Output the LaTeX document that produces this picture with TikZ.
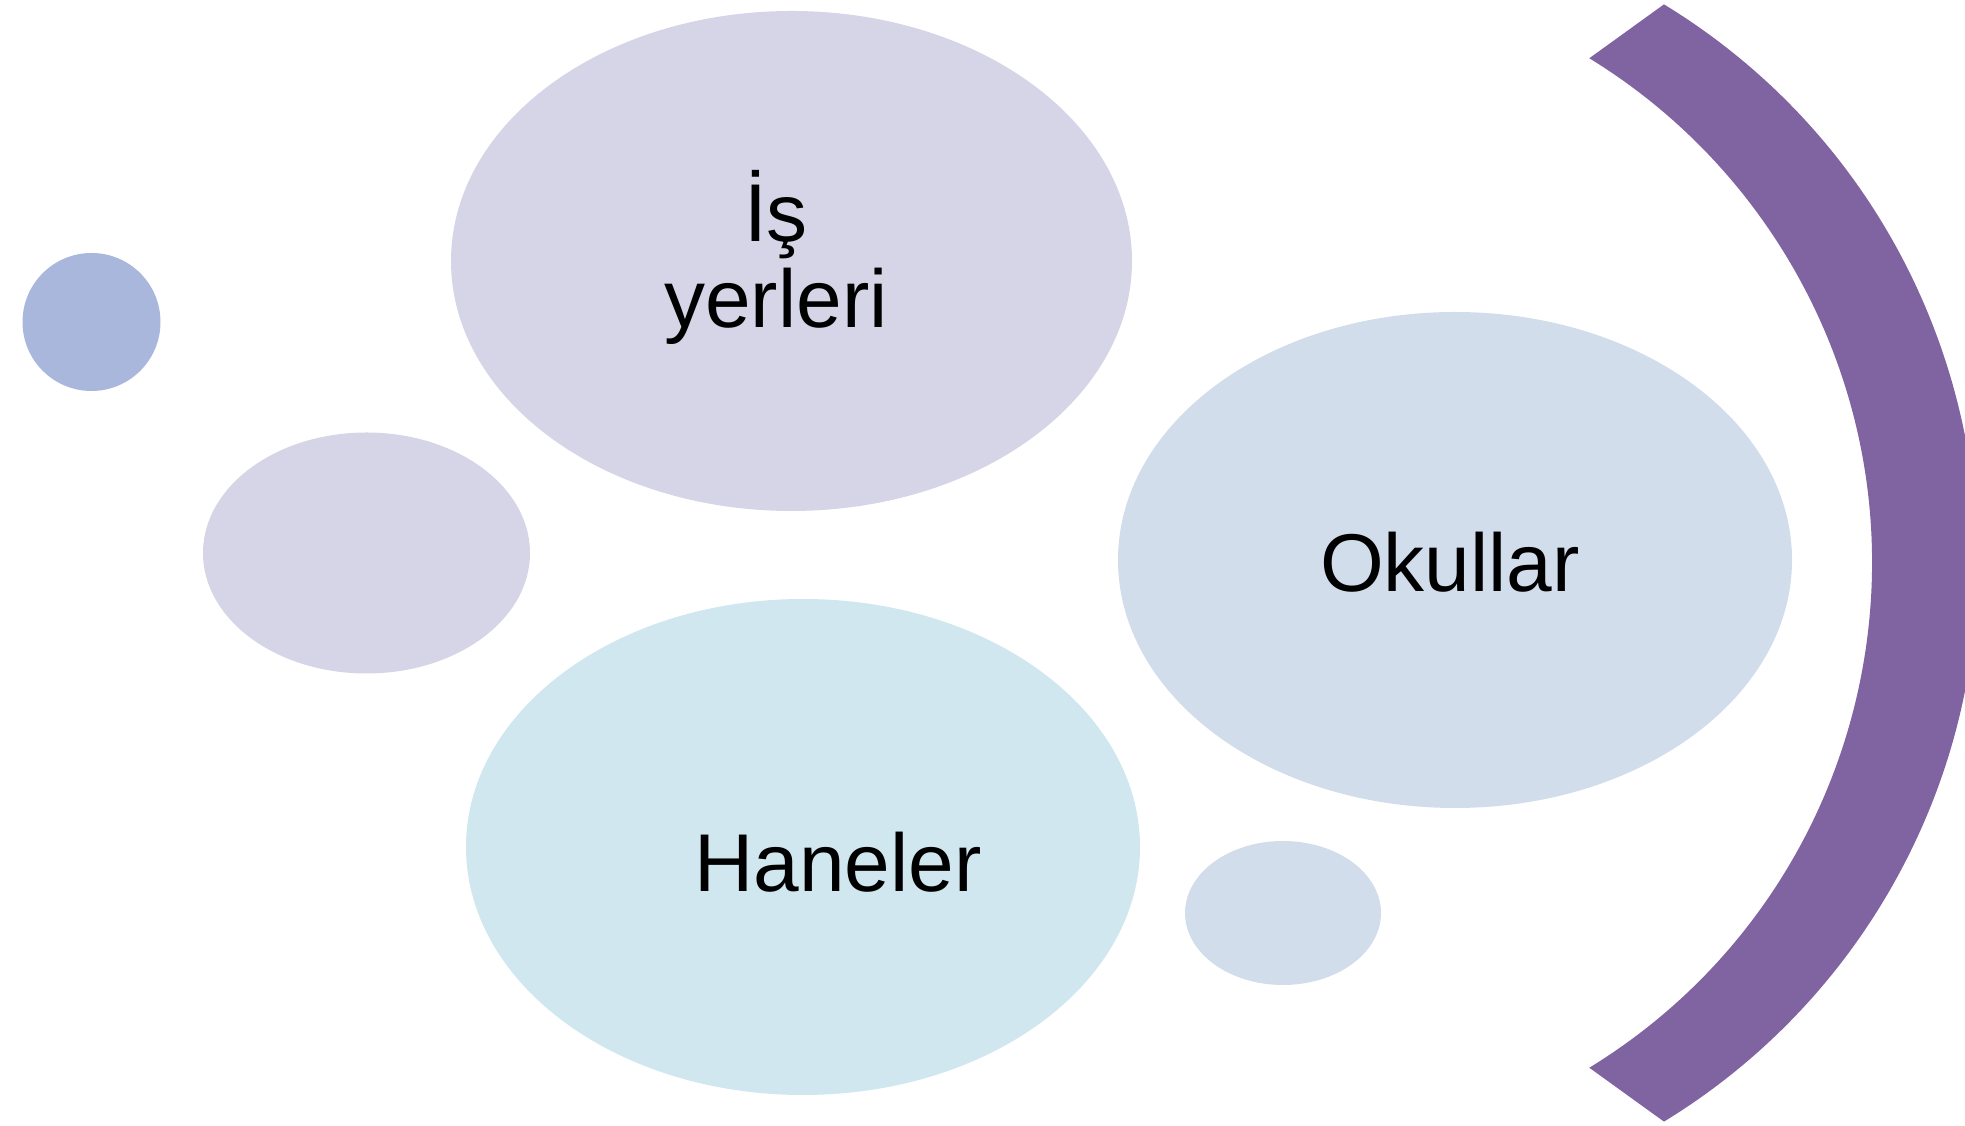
\documentclass[tikz,border=0pt]{standalone}
\usepackage{fontspec}
\setmainfont{Liberation Sans}
\usetikzlibrary{shapes.geometric}
\definecolor{dotblue}{HTML}{A8B7DB}
\definecolor{lavender}{HTML}{D6D5E7}
\definecolor{paleblue}{HTML}{D2DDEB}
\definecolor{palecyan}{HTML}{D0E7EF}
\definecolor{arcpurple}{HTML}{8064A2}
\tikzset{
  bubble/.style={ellipse, draw=none, inner sep=0pt},
  lbl/.style={font=\fontsize{82}{86}\selectfont, text=black, inner sep=0pt, anchor=base, align=center}
}
\begin{document}
\begin{tikzpicture}[x=1pt,y=1pt]
\useasboundingbox (0,0) rectangle (1965,1126);
% bubbles
\node[bubble, fill=dotblue, minimum width=138pt, minimum height=138pt] (dot) at (91.5,804) {};
\node[bubble, fill=lavender, minimum width=681pt, minimum height=500pt] (isyer) at (791.5,865) {};
\node[bubble, fill=lavender, minimum width=327pt, minimum height=241pt] (smallL) at (366.5,573) {};
\node[bubble, fill=paleblue, minimum width=674pt, minimum height=496pt] (okul) at (1455,566) {};
\node[bubble, fill=palecyan, minimum width=674pt, minimum height=496pt] (hane) at (803,279) {};
\node[bubble, fill=paleblue, minimum width=196pt, minimum height=144pt] (smallR) at (1283,213) {};
% arc
\coordinate (oc) at (1323,563);
\coordinate (ic) at (1280,563);
\fill[arcpurple] (oc) ++(58.6:654.5pt) arc[start angle=58.6, end angle=-58.6, radius=654.5pt]
  -- ([shift={(-58.5:592pt)}]ic) arc[start angle=-58.5, end angle=58.5, radius=592pt] -- cycle;
% labels
\node[lbl] (t1) at (776,798) {İş\\yerleri};
\node[lbl] (t2) at (1450,534) {Okullar};
\node[lbl] (t3) at (838,234) {Haneler};
\end{tikzpicture}
\end{document}
